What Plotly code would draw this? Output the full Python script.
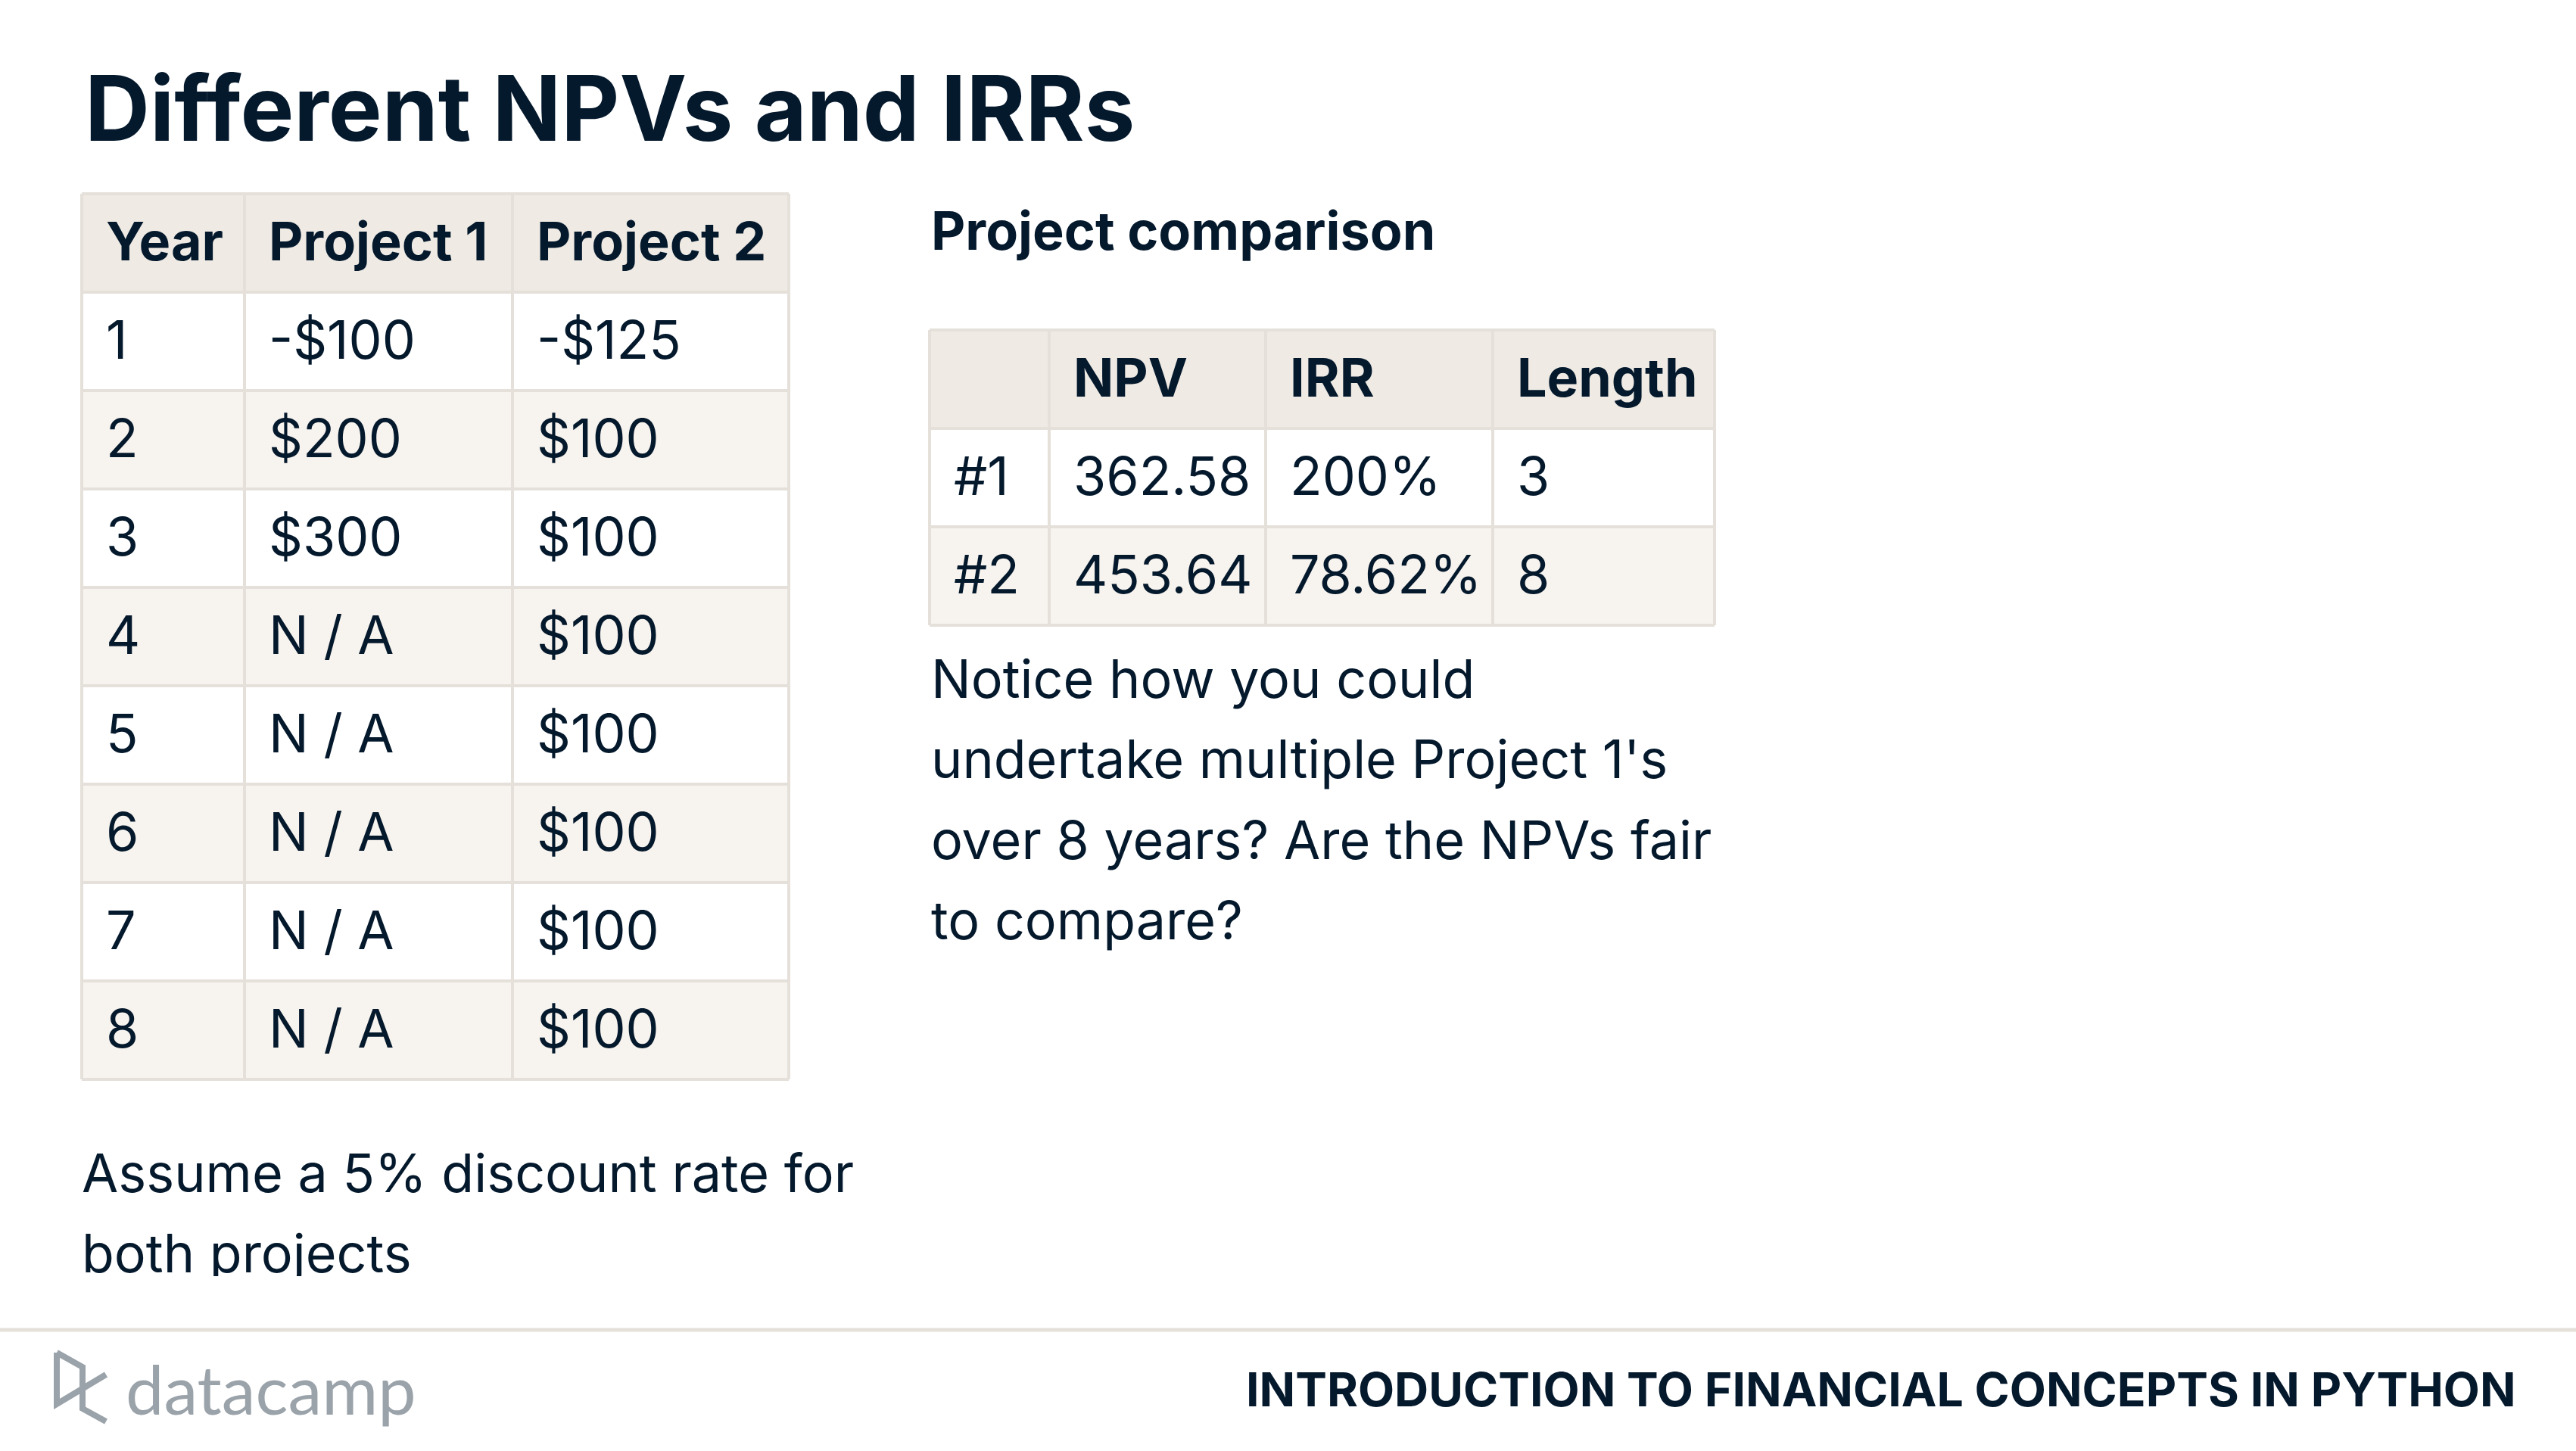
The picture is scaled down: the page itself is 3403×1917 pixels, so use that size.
import plotly.graph_objects as go

# ---------------- data ----------------
years = [1, 2, 3, 4, 5, 6, 7, 8]
project1_cf = [-100, 200, 300, None, None, None, None, None]
project2_cf = [-125, 100, 100, 100, 100, 100, 100, 100]
table1_headers = ["Year", "Project 1", "Project 2"]

comp_labels = ["#1", "#2"]
comp_npv = [362.58, 453.64]
comp_irr = [200, 78.62]
comp_length = [3, 8]
table2_headers = ["", "NPV", "IRR", "Length"]

title = "Different NPVs and IRRs"
subtitle = "Project comparison"
notice_lines = ["Notice how you could", "undertake multiple Project 1's",
                "over 8 years? Are the NPVs fair", "to compare?"]
assume_lines = ["Assume a 5% discount rate for", "both projects"]
footer_text = "INTRODUCTION TO FINANCIAL CONCEPTS IN PYTHON"
logo_text = "datacamp"

# ---------------- style ----------------
W, H = 3403, 1917
NAVY = "#05192D"
HEAD_FILL = "#EFEBE4"
STRIPE_FILL = "#F7F3EE"
BORDER = "#E5E1DA"
GRAY = "#9BA3AA"
FONT = "Inter"
PAD = 30
ROW_H = 130


def money(v):
    if v is None:
        return "N / A"
    return ("-$" if v < 0 else "$") + f"{abs(v):g}"


fig = go.Figure()
shapes = []
annotations = []


def text(x, y, s, size, bold=False, color=NAVY, family=FONT):
    annotations.append(dict(
        x=x, y=y, xref="x", yref="y", text=f"<b>{s}</b>" if bold else s,
        showarrow=False, xanchor="left", yanchor="middle",
        font=dict(family=family, size=size, color=color)))


def draw_table(x_edges, y_top, rows, headers, size):
    n_rows = len(rows) + 1
    y_edges = [y_top + i * ROW_H for i in range(n_rows + 1)]
    for r in range(n_rows):
        fill = HEAD_FILL if r == 0 else ("white" if r % 2 == 1 else STRIPE_FILL)
        shapes.append(dict(type="rect", xref="x", yref="y", x0=x_edges[0], x1=x_edges[-1],
                           y0=y_edges[r], y1=y_edges[r + 1], fillcolor=fill,
                           line=dict(width=0), layer="below"))
    for xe in x_edges:
        shapes.append(dict(type="line", xref="x", yref="y", x0=xe, x1=xe,
                           y0=y_edges[0], y1=y_edges[-1], line=dict(color=BORDER, width=4),
                           layer="below"))
    for ye in y_edges:
        shapes.append(dict(type="line", xref="x", yref="y", x0=x_edges[0], x1=x_edges[-1],
                           y0=ye, y1=ye, line=dict(color=BORDER, width=4), layer="below"))
    off = -3
    for c, h in enumerate(headers):
        if h:
            text(x_edges[c] + PAD, (y_edges[0] + y_edges[1]) / 2 + off, h, size, bold=True)
    for r, row in enumerate(rows):
        for c, v in enumerate(row):
            text(x_edges[c] + PAD, (y_edges[r + 1] + y_edges[r + 2]) / 2 + off, v, size)


# title
text(110, 143, title, 119, bold=True)

# table 1
rows1 = [[str(y), money(a), money(b)] for y, a, b in zip(years, project1_cf, project2_cf)]
draw_table([108, 323, 677, 1042], 256, rows1, table1_headers, 70)

# subtitle
text(1228, 304, subtitle, 70, bold=True)

# table 2
rows2 = [[l, f"{n:.2f}", f"{i:g}%", str(L)] for l, n, i, L in
         zip(comp_labels, comp_npv, comp_irr, comp_length)]
draw_table([1228, 1386, 1672, 1972, 2265], 436, rows2, table2_headers, 70)

# notice paragraph
for k, line in enumerate(notice_lines):
    text(1228, 896 + k * 106.5, line, 70)

# assume paragraph (as text trace so the slide edge can clip it)
fig.add_trace(go.Scatter(
    x=[108] * len(assume_lines), y=[1557 + k * 106 for k in range(len(assume_lines))],
    mode="text", text=assume_lines, textposition="middle right",
    textfont=dict(family=FONT, size=70, color=NAVY), hoverinfo="skip",
    showlegend=False, cliponaxis=False))
shapes.append(dict(type="rect", xref="x", yref="y", x0=0, x1=W, y0=1686, y1=H,
                   fillcolor="white", line=dict(width=0), layer="above"))

# footer
shapes.append(dict(type="line", xref="x", yref="y", x0=0, x1=W, y0=1757, y1=1757,
                   line=dict(color=BORDER, width=5), layer="above"))
shapes.append(dict(type="path", xref="x", yref="y",
                   path="M 75 1787 L 109 1806 L 109 1861 L 140 1878 M 75 1787 L 75 1855 L 140 1816",
                   line=dict(color=GRAY, width=8), layer="above"))
annotations.append(dict(x=164, y=1834, xref="x", yref="y", text=logo_text, showarrow=False,
                        xanchor="left", yanchor="middle",
                        font=dict(family="Lato", size=90, color=GRAY)))
annotations.append(dict(x=3326, y=1835, xref="x", yref="y", text=f"<b>{footer_text}</b>",
                        showarrow=False, xanchor="right", yanchor="middle",
                        font=dict(family=FONT, size=62.5, color=NAVY)))

fig.update_layout(
    width=W, height=H, margin=dict(l=0, r=0, t=0, b=0),
    paper_bgcolor="white", plot_bgcolor="white",
    xaxis=dict(range=[0, W], visible=False, fixedrange=True),
    yaxis=dict(range=[H, 0], visible=False, fixedrange=True),
    shapes=shapes, annotations=annotations, showlegend=False,
)

fig.write_html("out.html", include_plotlyjs=True, config={"displayModeBar": False},
               post_script="document.body.style.margin='0px';document.body.style.overflow='hidden';")
